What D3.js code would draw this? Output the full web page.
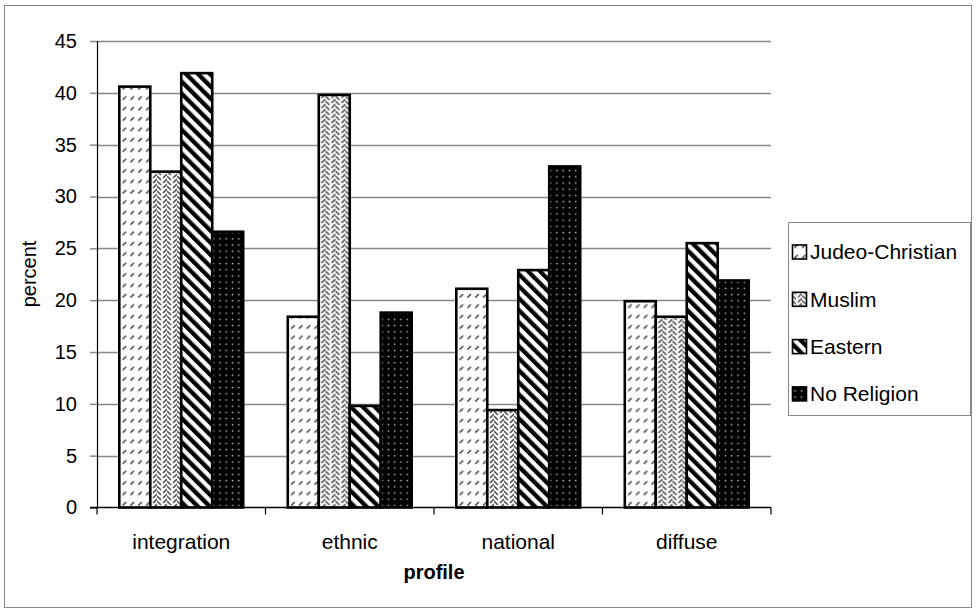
<!DOCTYPE html>
<html><head><meta charset="utf-8">
<script src="https://cdn.jsdelivr.net/npm/d3@7/dist/d3.min.js"></script>
<style>body{margin:0;background:#fff}svg{display:block;font-family:"Liberation Sans",Arial,sans-serif}</style>
</head><body>
<svg id="c" width="977" height="614"></svg>
<script>
const categories = ["integration","ethnic","national","diffuse"];
const seriesNames = ["Judeo-Christian","Muslim","Eastern","No Religion"];
const judeoChristian = [40.6, 18.4, 21.1, 19.9];
const muslim = [32.4, 39.8, 9.4, 18.4];
const eastern = [41.9, 9.8, 22.9, 25.5];
const noReligion = [26.6, 18.8, 32.9, 21.9];
const yTicks = [0,5,10,15,20,25,30,35,40,45];
const seriesValues = [judeoChristian, muslim, eastern, noReligion];

(function(){
const svg = d3.select("#c");
const defs = svg.append("defs");
const p1 = defs.append("pattern").attr("id","pJC").attr("patternUnits","userSpaceOnUse").attr("width",7.8).attr("height",10.4);
p1.append("rect").attr("width",7.8).attr("height",10.4).attr("fill","#fff");
p1.append("path").attr("d","M2.3,6.3 L5.8,2.8").attr("stroke","#444").attr("stroke-width",1.5);
const p2 = defs.append("pattern").attr("id","pMU").attr("patternUnits","userSpaceOnUse").attr("width",10).attr("height",10);
p2.append("rect").attr("width",10).attr("height",10).attr("fill","#fff");
p2.append("path").attr("d","M0,1 L4,5 M0,6 L4,10 M0,-4 L4,0 M6,8 L10,4 M6,3 L10,-1 M6,13 L10,9").attr("stroke","#555").attr("stroke-width",1.6).attr("fill","none");
const p3 = defs.append("pattern").attr("id","pEA").attr("patternUnits","userSpaceOnUse").attr("width",8.5).attr("height",10).attr("patternTransform","rotate(-45)");
p3.append("rect").attr("width",8.5).attr("height",10).attr("fill","#fff");
p3.append("rect").attr("width",4.3).attr("height",10).attr("fill","#000");
const p4 = defs.append("pattern").attr("id","pNR").attr("patternUnits","userSpaceOnUse").attr("width",6.3).attr("height",6.2);
p4.append("rect").attr("width",6.3).attr("height",6.2).attr("fill","#000");
p4.append("rect").attr("x",2.5).attr("y",2.5).attr("width",1.4).attr("height",1.4).attr("fill","#ccc");
const fills = ["url(#pJC)","url(#pMU)","url(#pEA)","url(#pNR)"];

svg.append("rect").attr("x",4.5).attr("y",5.5).attr("width",967).attr("height",602).attr("fill","none").attr("stroke","#888").attr("stroke-width",1);

const pl=97, pr=771, pt=41, pb=507.5;
const y = d3.scaleLinear().domain([0,45]).range([pb,pt]);
const x0 = d3.scaleBand().domain(categories).range([pl,pr]).paddingInner(0).paddingOuter(0);
const x1 = d3.scaleBand().domain(seriesNames).range([0,x0.bandwidth()]).paddingInner(0).paddingOuter(0.72);

svg.append("g").selectAll("line").data(yTicks.filter(d=>d>0)).join("line")
  .attr("x1",pl).attr("x2",pr).attr("y1",d=>Math.round(y(d))+0.5).attr("y2",d=>Math.round(y(d))+0.5)
  .attr("stroke","#888").attr("stroke-width",1.5);

const yAxis = svg.append("g").attr("transform",`translate(${pl},0)`)
  .call(d3.axisLeft(y).tickValues(yTicks).tickSize(7).tickPadding(13));
yAxis.select(".domain").attr("stroke","#000").attr("stroke-width",1.2);
yAxis.selectAll(".tick line").attr("stroke","#888").attr("stroke-width",1.5);
yAxis.selectAll(".tick text").attr("font-size",20).attr("fill","#000").attr("font-family","Liberation Sans, Arial, sans-serif");

const groups = svg.append("g").selectAll("g").data(categories).join("g")
  .attr("transform",d=>`translate(${x0(d)},0)`);
groups.selectAll("rect").data((c,i)=>seriesNames.map((s,j)=>({s,j,v:seriesValues[j][i]}))).join("rect")
  .attr("x",d=>x1(d.s)).attr("width",x1.bandwidth())
  .attr("y",d=>y(d.v)).attr("height",d=>pb-y(d.v))
  .attr("fill",d=>fills[d.j]).attr("stroke","#000").attr("stroke-width",2.6);

const xAxis = svg.append("g").attr("transform",`translate(0,${pb})`)
  .call(d3.axisBottom(x0).tickSize(0).tickPadding(27));
xAxis.select(".domain").remove();
xAxis.selectAll(".tick text").attr("font-size",21).attr("fill","#000").attr("font-family","Liberation Sans, Arial, sans-serif");
svg.append("line").attr("x1",90).attr("x2",pr).attr("y1",pb).attr("y2",pb).attr("stroke","#000").attr("stroke-width",1.5);
svg.append("g").selectAll("line").data(d3.range(categories.length+1)).join("line")
  .attr("x1",i=>pl+i*x0.step()).attr("x2",i=>pl+i*x0.step())
  .attr("y1",pb).attr("y2",pb+7).attr("stroke","#000").attr("stroke-width",1.2);

svg.append("text").attr("x",434).attr("y",579).attr("text-anchor","middle").attr("font-size",20).attr("font-weight","bold").text("profile");
svg.append("text").attr("transform","translate(36,274) rotate(-90)").attr("text-anchor","middle").attr("font-size",20).text("percent");

const lg = svg.append("g");
lg.append("rect").attr("x",788.5).attr("y",222.5).attr("width",182).attr("height",193).attr("fill","#fff").attr("stroke","#888");
const items = lg.selectAll("g").data(seriesNames).join("g").attr("transform",(d,i)=>`translate(792,${252+i*47.3})`);
items.append("rect").attr("x",0.5).attr("y",-7).attr("width",14).attr("height",14).attr("fill",(d,i)=>fills[i]).attr("stroke","#000").attr("stroke-width",1.6);
items.append("text").attr("x",18).attr("y",0).attr("dy","0.35em").attr("font-size",21).text(d=>d);
})();
</script>
</body></html>
